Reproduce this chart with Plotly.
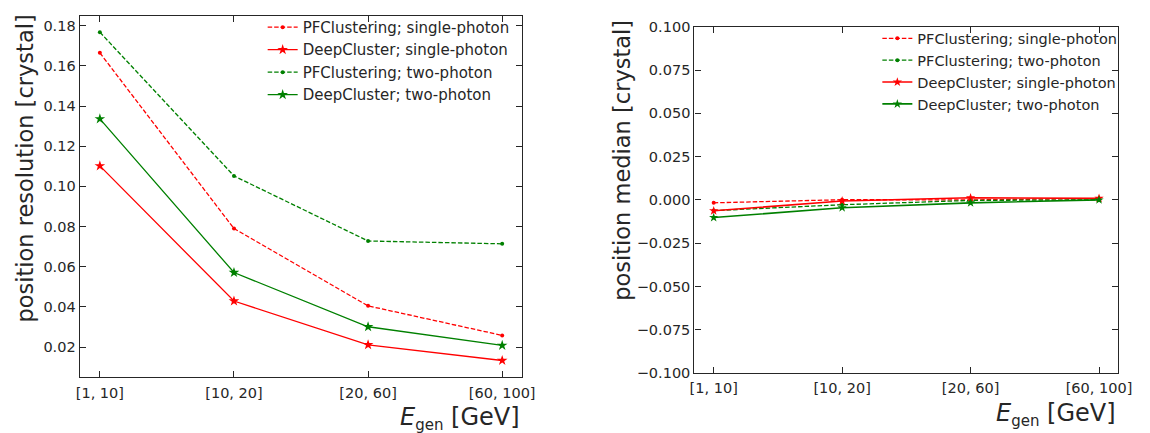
import plotly.graph_objects as go

# Energy bins (x categories)
bins = ["[1, 10]", "[10, 20]", "[20, 60]", "[60, 100]"]

# Position resolution [crystal]
res_pf_single = [0.1665, 0.0790, 0.0405, 0.0258]
res_dc_single = [0.1102, 0.0429, 0.0211, 0.0133]
res_pf_two = [0.1768, 0.1052, 0.0728, 0.0714]
res_dc_two = [0.1336, 0.0571, 0.0301, 0.0208]

# Position median [crystal]
med_pf_single = [-0.0017, 0.0001, 0.0000, 0.0008]
med_pf_two = [-0.0062, -0.0028, -0.0003, 0.0000]
med_dc_single = [-0.0063, -0.0006, 0.0012, 0.0009]
med_dc_two = [-0.0102, -0.0045, -0.0017, 0.0000]
med_dc_single_err = [0.0006, 0.0005, 0.0005, 0.0005]
med_dc_two_err = [0.0006, 0.0005, 0.0005, 0.0005]

# Tick labels
res_ticks = [0.02, 0.04, 0.06, 0.08, 0.10, 0.12, 0.14, 0.16, 0.18]
med_ticks = [-0.100, -0.075, -0.050, -0.025, 0.000, 0.025, 0.050, 0.075, 0.100]

RED = "#ff0000"
GREEN = "#008000"
FONT = "DejaVu Sans"
INK = "#262626"
DASH = "4.5px,2px"
W, H = 1150, 433


def fmt(v, nd):
    s = f"{abs(v):.{nd}f}"
    return ("\u2212" + s) if v < 0 else s


fig = go.Figure()

# Left panel: resolution
left_series = [
    ("PFClustering; single-photon", res_pf_single, RED, DASH, "circle", 4),
    ("DeepCluster; single-photon", res_dc_single, RED, "solid", "star", 8),
    ("PFClustering; two-photon", res_pf_two, GREEN, DASH, "circle", 4),
    ("DeepCluster; two-photon", res_dc_two, GREEN, "solid", "star", 8),
]
for name, ys, col, dash, sym, ms in left_series:
    fig.add_trace(go.Scatter(
        x=bins, y=ys, name=name, mode="lines+markers",
        line=dict(color=col, width=1.3, dash=dash),
        marker=dict(color=col, symbol=sym, size=ms, line=dict(width=0)),
        xaxis="x", yaxis="y", legend="legend",
    ))

# Right panel: median
right_series = [
    ("PFClustering; single-photon", med_pf_single, None, RED, DASH, "circle", 4),
    ("PFClustering; two-photon", med_pf_two, None, GREEN, DASH, "circle", 4),
    ("DeepCluster; single-photon", med_dc_single, med_dc_single_err, RED, "solid", "star", 7),
    ("DeepCluster; two-photon", med_dc_two, med_dc_two_err, GREEN, "solid", "star", 7),
]
for name, ys, err, col, dash, sym, ms in right_series:
    kw = {}
    if err is not None:
        kw["error_y"] = dict(type="data", array=err, color=col, thickness=1.5, width=0)
    fig.add_trace(go.Scatter(
        x=bins, y=ys, name=name, mode="lines+markers",
        line=dict(color=col, width=1.6 if err is not None else 1.3, dash=dash),
        marker=dict(color=col, symbol=sym, size=ms, line=dict(width=0)),
        xaxis="x2", yaxis="y2", legend="legend2", **kw,
    ))

axis_common = dict(
    showline=True, linecolor=INK, linewidth=1.3, mirror="ticks",
    ticks="inside", ticklen=6, tickwidth=1.2, tickcolor=INK,
    showgrid=False, zeroline=False,
    tickfont=dict(family=FONT, size=14.5, color=INK),
)

fig.update_layout(
    width=W, height=H,
    margin=dict(l=0, r=0, t=0, b=0),
    paper_bgcolor="white", plot_bgcolor="white",
    font=dict(family=FONT, color=INK),
    xaxis=dict(domain=[76 / W, 526 / W], type="category",
               range=[-0.15, 3.15], anchor="y", ticklabelstandoff=3,
               **axis_common),
    yaxis=dict(domain=[(H - 383) / H, (H - 8) / H], anchor="x",
               range=[0.00515, 0.1850],
               tickvals=res_ticks, ticktext=[fmt(v, 2) for v in res_ticks],
               **axis_common),
    xaxis2=dict(domain=[701 / W, 1132 / W], type="category",
                range=[-0.15, 3.15], anchor="y2", ticklabelstandoff=1,
                **axis_common),
    yaxis2=dict(domain=[(H - 379) / H, (H - 19.5) / H], anchor="x2",
                range=[-0.1, 0.1],
                tickvals=med_ticks, ticktext=[fmt(v, 3) for v in med_ticks],
                **axis_common),
    legend=dict(x=262 / W, y=1 - 3 / H, xanchor="left", yanchor="top",
                bgcolor="rgba(0,0,0,0)", itemwidth=30,
                font=dict(family=FONT, size=15, color=INK)),
    legend2=dict(x=887 / W, y=1 - 15 / H, xanchor="left", yanchor="top",
                 bgcolor="rgba(0,0,0,0)", itemwidth=30,
                 font=dict(family=FONT, size=14.5, color=INK)),
    showlegend=True,
)

title_font = dict(family=FONT, size=22.5, color=INK)
xlabel_font = dict(family=FONT, size=24, color=INK)
xlabel = '<i>E</i><sub><span style="font-size:15px">gen</span></sub> [GeV]'
fig.add_annotation(text="position resolution [crystal]", textangle=-90,
                   x=20 / W, y=1 - 167 / H, xref="paper", yref="paper",
                   xanchor="center", yanchor="middle",
                   showarrow=False, font=title_font)
fig.add_annotation(text="position median [crystal]", textangle=-90,
                   x=628 / W, y=1 - 158 / H, xref="paper", yref="paper",
                   xanchor="center", yanchor="middle",
                   showarrow=False, font=title_font)
fig.add_annotation(text=xlabel,
                   x=526 / W, y=1 - 426 / H, xref="paper", yref="paper",
                   xanchor="right", yanchor="middle",
                   showarrow=False, font=xlabel_font)
fig.add_annotation(text=xlabel,
                   x=1132 / W, y=1 - 422 / H, xref="paper", yref="paper",
                   xanchor="right", yanchor="middle",
                   showarrow=False, font=xlabel_font)

fig.write_html("out.html")
